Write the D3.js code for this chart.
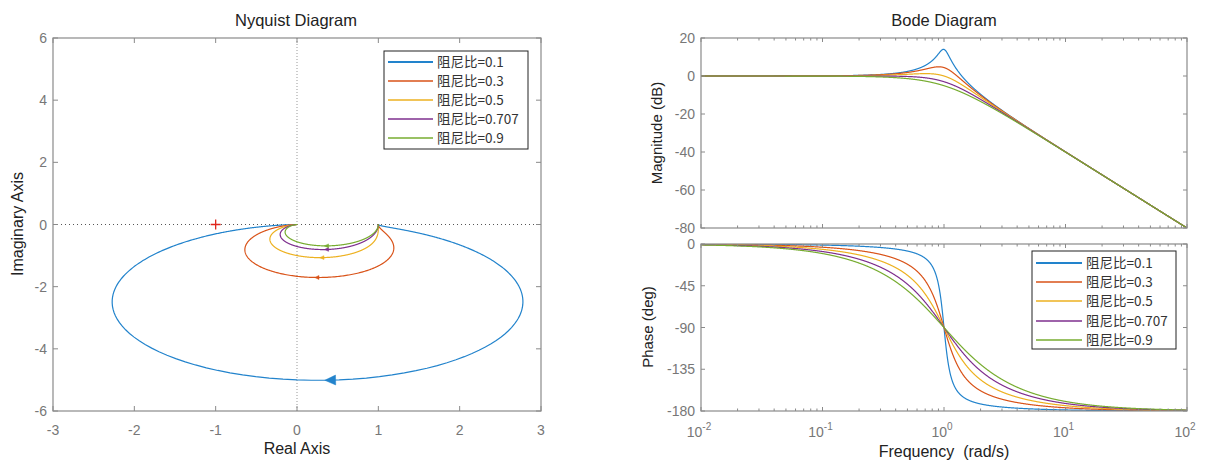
<!DOCTYPE html>
<html>
<head>
<meta charset="utf-8">
<script src="https://cdn.jsdelivr.net/npm/d3@7"></script>
<style>
  html, body { margin: 0; padding: 0; background: #fff; }
  svg { display: block; }
  text { font-family: "Liberation Sans", Arial, sans-serif; }
  .leg { font-family: "Noto Sans CJK SC", "Liberation Sans", sans-serif; }
</style>
</head>
<body>
<svg id="chart" width="1208" height="461"></svg>
<script>
// ---------------- data ----------------
// second-order system G(s) = wn^2 / (s^2 + 2*zeta*wn*s + wn^2), read from legend / resonance at 1 rad/s
const dampingRatios = [0.1, 0.3, 0.5, 0.707, 0.9];
const naturalFrequency = 1;
const seriesLabels = ["阻尼比=0.1", "阻尼比=0.3", "阻尼比=0.5", "阻尼比=0.707", "阻尼比=0.9"];
// frequency (rad/s) where nyquist direction arrows sit
const arrowFrequencies = [0.991, 0.955, 0.86, 0.72, 0.62];
const nyquistXTicks = [-3, -2, -1, 0, 1, 2, 3];
const nyquistYTicks = [-6, -4, -2, 0, 2, 4, 6];
const magTicks = [20, 0, -20, -40, -60, -80];
const phaseTicks = [0, -45, -90, -135, -180];
const freqDecades = [-2, -1, 0, 1, 2];
const criticalPoint = [-1, 0];

// ---------------- style ----------------
const colors = ["#2283cc", "#D95319", "#EDB120", "#7E2F8E", "#77AC30"];
const arrowSizes = [9, 3.5, 3.5, 3.5, 3.5];
const axisColor = "#8a8a8a";
const tickTextColor = "#777";

// frequency evaluation grid (log-spaced, evaluation resolution)
const wGrid = d3.range(-3, 3.0001, 0.0015).map(e => Math.pow(10, e));

function response(zeta, w) {
  const wn = naturalFrequency;
  const re0 = wn * wn - w * w, im0 = 2 * zeta * wn * w;
  const den = re0 * re0 + im0 * im0;
  return { re: wn * wn * re0 / den, im: -wn * wn * im0 / den };
}

const svg = d3.select("#chart");

function addText(g, x, y, str, opts = {}) {
  const t = g.append("text").attr("x", x).attr("y", y).text(str)
    .attr("font-size", opts.size || 14)
    .attr("fill", opts.fill || "#222")
    .attr("text-anchor", opts.anchor || "middle");
  if (opts.rotate) t.attr("transform", `rotate(-90,${x},${y})`);
  if (opts.cls) t.attr("class", opts.cls);
  return t;
}

// ---------------- Nyquist ----------------
const nx = d3.scaleLinear().domain([-3, 3]).range([53, 541]);
const ny = d3.scaleLinear().domain([-6, 6]).range([411, 38]);
const gN = svg.append("g");

gN.append("clipPath").attr("id", "clipN").append("rect")
  .attr("x", nx(-3)).attr("y", ny(6)).attr("width", nx(3) - nx(-3)).attr("height", ny(-6) - ny(6));

// dotted zero lines
gN.append("line").attr("x1", nx(-3)).attr("x2", nx(3)).attr("y1", ny(0)).attr("y2", ny(0))
  .attr("stroke", "#555").attr("stroke-width", 1).attr("stroke-dasharray", "1,3");
gN.append("line").attr("x1", nx(0)).attr("x2", nx(0)).attr("y1", ny(-6)).attr("y2", ny(6))
  .attr("stroke", "#999").attr("stroke-width", 1).attr("stroke-dasharray", "1,2");

const curvesN = gN.append("g").attr("clip-path", "url(#clipN)");
const nLine = d3.line().x(d => nx(d.re)).y(d => ny(d.im));
dampingRatios.forEach((z, i) => {
  const pts = wGrid.map(w => response(z, w));
  curvesN.append("path").attr("d", nLine(pts)).attr("fill", "none")
    .attr("stroke", colors[i]).attr("stroke-width", 1.2);
});
// arrows
dampingRatios.forEach((z, i) => {
  const w = arrowFrequencies[i];
  const p = response(z, w), q = response(z, w * 1.002);
  const ang = Math.atan2(ny(q.im) - ny(p.im), nx(q.re) - nx(p.re)) * 180 / Math.PI;
  const s = arrowSizes[i];
  curvesN.append("path")
    .attr("d", `M${s},0 L${-s * 0.2},${-s * 0.55} L${-s * 0.2},${s * 0.55} Z`)
    .attr("transform", `translate(${nx(p.re)},${ny(p.im)}) rotate(${ang})`)
    .attr("fill", colors[i]).attr("stroke", colors[i]).attr("stroke-width", 0.5);
});
// critical point
const cpX = nx(criticalPoint[0]), cpY = ny(criticalPoint[1]);
gN.append("path").attr("d", `M${cpX - 5},${cpY}H${cpX + 5}M${cpX},${cpY - 5}V${cpY + 5}`)
  .attr("stroke", "#e0261c").attr("stroke-width", 1.3);

// axes box & ticks
gN.append("rect").attr("x", nx(-3)).attr("y", ny(6)).attr("width", nx(3) - nx(-3)).attr("height", ny(-6) - ny(6))
  .attr("fill", "none").attr("stroke", axisColor).attr("stroke-width", 1.2);
nyquistXTicks.forEach(v => {
  gN.append("line").attr("x1", nx(v)).attr("x2", nx(v)).attr("y1", ny(-6)).attr("y2", ny(-6) - 5).attr("stroke", axisColor);
  gN.append("line").attr("x1", nx(v)).attr("x2", nx(v)).attr("y1", ny(6)).attr("y2", ny(6) + 5).attr("stroke", axisColor);
  addText(gN, nx(v), 435, String(v), { fill: tickTextColor });
});
nyquistYTicks.forEach(v => {
  gN.append("line").attr("y1", ny(v)).attr("y2", ny(v)).attr("x1", nx(-3)).attr("x2", nx(-3) + 5).attr("stroke", axisColor);
  gN.append("line").attr("y1", ny(v)).attr("y2", ny(v)).attr("x1", nx(3)).attr("x2", nx(3) - 5).attr("stroke", axisColor);
  addText(gN, 47, ny(v) + 5, String(v), { fill: tickTextColor, anchor: "end" });
});
addText(gN, 296, 26, "Nyquist Diagram", { size: 16.5 });
addText(gN, 297, 454, "Real Axis", { size: 16 });
addText(gN, 23, 224, "Imaginary Axis", { size: 16, rotate: true });

// legend
function legend(g, x0, y0, w, h, rowYs, lineX1, lineX2, textX) {
  g.append("rect").attr("x", x0).attr("y", y0).attr("width", w).attr("height", h)
    .attr("fill", "#fff").attr("stroke", "#222").attr("stroke-width", 1);
  seriesLabels.forEach((lab, i) => {
    g.append("line").attr("x1", lineX1).attr("x2", lineX2).attr("y1", rowYs[i]).attr("y2", rowYs[i])
      .attr("stroke", colors[i]).attr("stroke-width", i === 0 ? 2 : 1.5);
    addText(g, textX, rowYs[i] + 5, lab, { size: 13.5, anchor: "start", fill: "#333", cls: "leg" });
  });
}
legend(gN, 384, 51, 144, 98, [62, 81, 100, 119, 138], 388, 433, 437);

// ---------------- Bode ----------------
const bx = d3.scaleLog().domain([0.01, 100]).range([701, 1187]);
const my = d3.scaleLinear().domain([-80, 20]).range([228, 38]);
const py = d3.scaleLinear().domain([-180, 0]).range([411, 244]);
const gB = svg.append("g");

gB.append("clipPath").attr("id", "clipM").append("rect")
  .attr("x", bx(0.01)).attr("y", my(20)).attr("width", bx(100) - bx(0.01)).attr("height", my(-80) - my(20));
gB.append("clipPath").attr("id", "clipP").append("rect")
  .attr("x", bx(0.01)).attr("y", py(0)).attr("width", bx(100) - bx(0.01)).attr("height", py(-180) - py(0));

const bGrid = wGrid.filter(w => w >= 0.0099 && w <= 101);
const magG = gB.append("g").attr("clip-path", "url(#clipM)");
const phG = gB.append("g").attr("clip-path", "url(#clipP)");
dampingRatios.forEach((z, i) => {
  const pts = bGrid.map(w => {
    const r = response(z, w);
    return { w, mag: 20 * Math.log10(Math.hypot(r.re, r.im)), ph: Math.atan2(r.im, r.re) * 180 / Math.PI };
  });
  magG.append("path").attr("d", d3.line().x(d => bx(d.w)).y(d => my(d.mag))(pts))
    .attr("fill", "none").attr("stroke", colors[i]).attr("stroke-width", 1.2);
  phG.append("path").attr("d", d3.line().x(d => bx(d.w)).y(d => py(d.ph))(pts))
    .attr("fill", "none").attr("stroke", colors[i]).attr("stroke-width", 1.2);
});

function logTicks(g, yTop, yBot) {
  freqDecades.forEach(dk => {
    const base = Math.pow(10, dk);
    g.append("line").attr("x1", bx(base)).attr("x2", bx(base)).attr("y1", yBot).attr("y2", yBot - 4).attr("stroke", axisColor);
    g.append("line").attr("x1", bx(base)).attr("x2", bx(base)).attr("y1", yTop).attr("y2", yTop + 4).attr("stroke", axisColor);
    if (dk < 2) {
      for (let m = 2; m <= 9; m++) {
        const v = base * m;
        g.append("line").attr("x1", bx(v)).attr("x2", bx(v)).attr("y1", yBot).attr("y2", yBot - 2.5).attr("stroke", axisColor);
        g.append("line").attr("x1", bx(v)).attr("x2", bx(v)).attr("y1", yTop).attr("y2", yTop + 2.5).attr("stroke", axisColor);
      }
    }
  });
}
// magnitude axes
gB.append("rect").attr("x", bx(0.01)).attr("y", my(20)).attr("width", bx(100) - bx(0.01)).attr("height", my(-80) - my(20))
  .attr("fill", "none").attr("stroke", axisColor).attr("stroke-width", 1.2);
logTicks(gB, my(20), my(-80));
magTicks.forEach(v => {
  gB.append("line").attr("y1", my(v)).attr("y2", my(v)).attr("x1", bx(0.01)).attr("x2", bx(0.01) + 4).attr("stroke", axisColor);
  gB.append("line").attr("y1", my(v)).attr("y2", my(v)).attr("x1", bx(100)).attr("x2", bx(100) - 4).attr("stroke", axisColor);
  addText(gB, 695, my(v) + 5, String(v), { fill: tickTextColor, anchor: "end" });
});
// phase axes
gB.append("rect").attr("x", bx(0.01)).attr("y", py(0)).attr("width", bx(100) - bx(0.01)).attr("height", py(-180) - py(0))
  .attr("fill", "none").attr("stroke", axisColor).attr("stroke-width", 1.2);
logTicks(gB, py(0), py(-180));
phaseTicks.forEach(v => {
  gB.append("line").attr("y1", py(v)).attr("y2", py(v)).attr("x1", bx(0.01)).attr("x2", bx(0.01) + 4).attr("stroke", axisColor);
  gB.append("line").attr("y1", py(v)).attr("y2", py(v)).attr("x1", bx(100)).attr("x2", bx(100) - 4).attr("stroke", axisColor);
  addText(gB, 695, py(v) + 5, String(v), { fill: tickTextColor, anchor: "end" });
});
freqDecades.forEach(dk => {
  const t = gB.append("text").attr("x", bx(Math.pow(10, dk)) - 2).attr("y", 437)
    .attr("text-anchor", "middle").attr("fill", tickTextColor).attr("font-size", 14);
  t.append("tspan").text("10");
  t.append("tspan").attr("dy", -7).attr("font-size", 10).text(String(dk));
});
addText(gB, 944, 26, "Bode Diagram", { size: 16.5 });
addText(gB, 944, 457, "Frequency  (rad/s)", { size: 16 }).attr("xml:space", "preserve").style("white-space", "pre");
addText(gB, 662, 133, "Magnitude (dB)", { size: 15, rotate: true });
addText(gB, 653, 327, "Phase (deg)", { size: 15, rotate: true });

legend(gB, 1032, 251, 144, 98, [263, 282, 301, 321, 340], 1036, 1082, 1086);
</script>
</body>
</html>
